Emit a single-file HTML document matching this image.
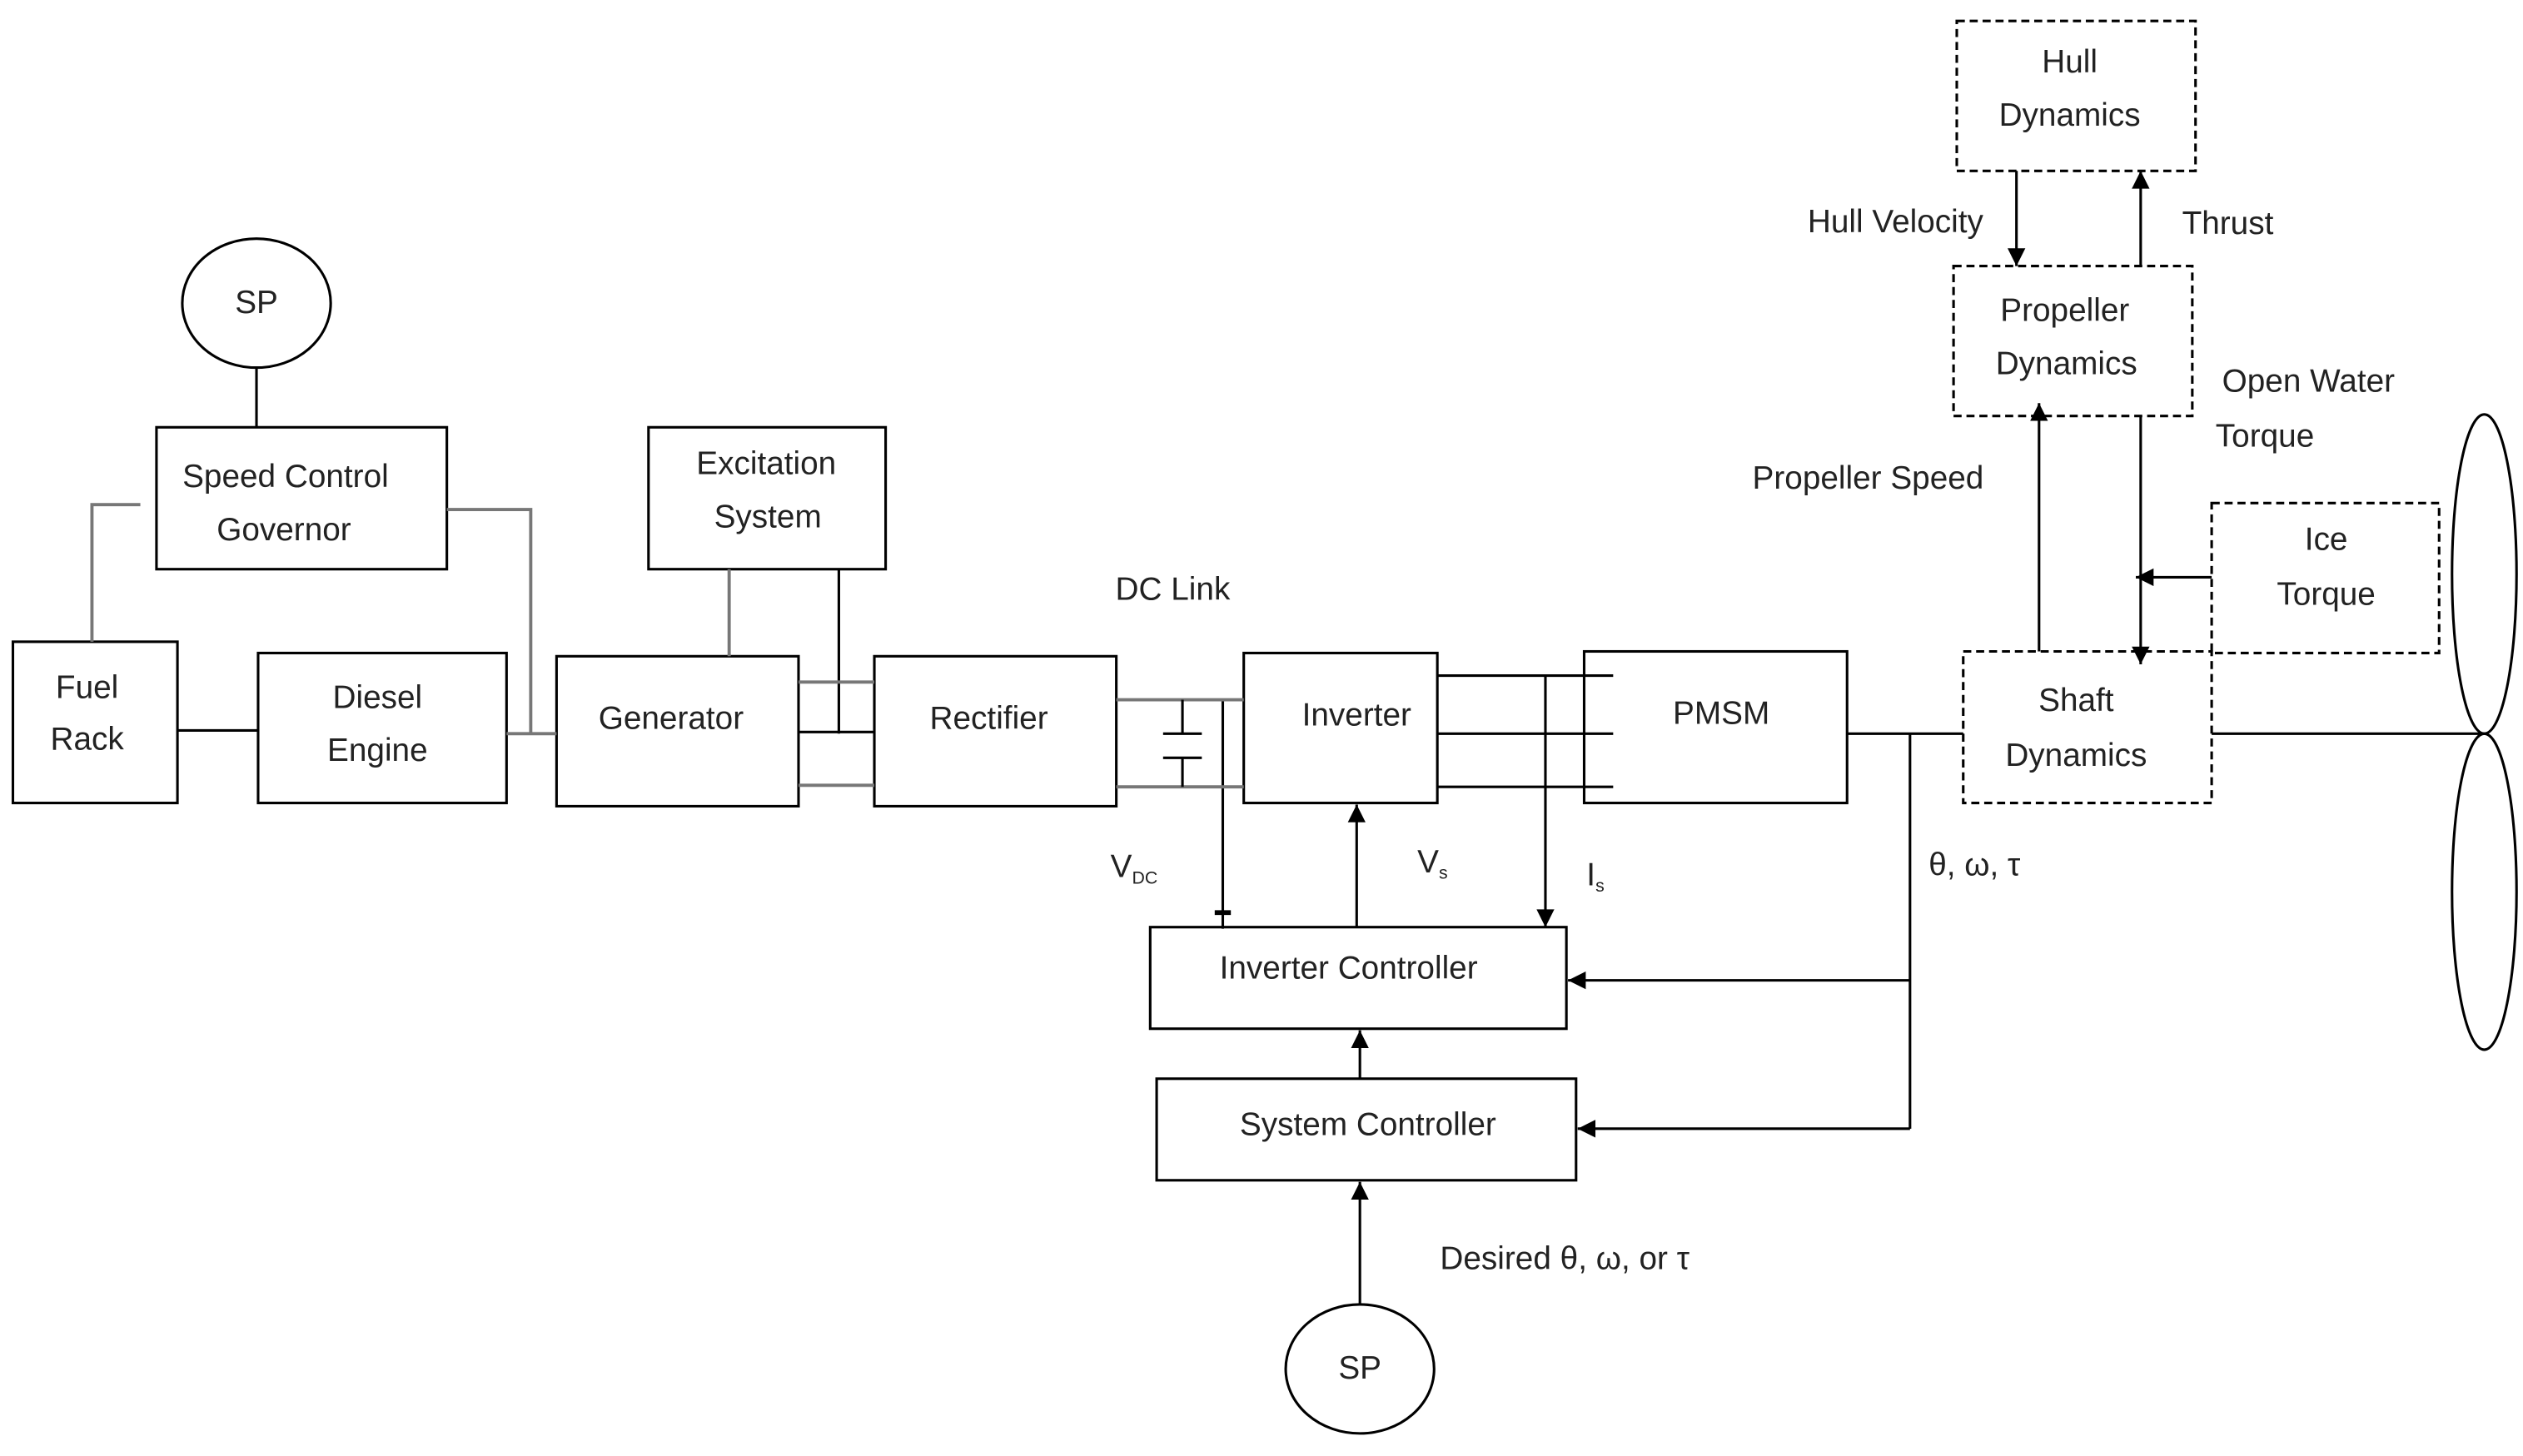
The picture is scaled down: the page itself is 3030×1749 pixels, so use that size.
<!DOCTYPE html>
<html><head><meta charset="utf-8"><style>
html,body{margin:0;padding:0;background:#fff}
svg{display:block}
text{font-family:"Liberation Sans",sans-serif;font-size:20px;fill:#222;text-anchor:middle}
</style></head><body>
<svg width="3030" height="1749" viewBox="0 0 1564 903" preserveAspectRatio="none" xmlns="http://www.w3.org/2000/svg">
<defs>
<marker id="b" viewBox="0 0 10 10" refX="10" refY="5" markerWidth="13" markerHeight="11" markerUnits="userSpaceOnUse" orient="auto"><path d="M0,0L10,5L0,10z" fill="#000"/></marker>
</defs>
<g fill="none" stroke="#000" stroke-width="1.6">
<ellipse cx="159" cy="188" rx="46" ry="40"/>
<line x1="159" y1="228" x2="159" y2="265"/>
<rect x="97" y="265" width="180" height="88"/>
<rect x="8" y="398" width="102" height="100"/>
<rect x="160" y="405" width="154" height="93"/>
<rect x="402" y="265" width="147" height="88"/>
<rect x="345" y="407" width="150" height="93"/>
<rect x="542" y="407" width="150" height="93"/>
<rect x="771" y="405" width="120" height="93"/>
<rect x="982" y="404" width="163" height="94"/>
<rect x="713" y="575" width="258" height="63"/>
<rect x="717" y="669" width="260" height="63"/>
<ellipse cx="843" cy="849" rx="46" ry="40"/>
<line x1="110" y1="453" x2="160" y2="453"/>
<line x1="520" y1="353" x2="520" y2="455"/>
<line x1="495" y1="454" x2="542" y2="454"/>
<line x1="891" y1="455" x2="1000" y2="455"/>
<line x1="891" y1="488" x2="1000" y2="488"/>
<line x1="891" y1="419" x2="1000" y2="419"/>
<line x1="1145" y1="455" x2="1217" y2="455"/>
<line x1="1371" y1="455" x2="1540" y2="455"/>
<line x1="1184" y1="455" x2="1184" y2="700"/>
<line x1="1184" y1="608" x2="972" y2="608" marker-end="url(#b)"/>
<line x1="1184" y1="700" x2="978" y2="700" marker-end="url(#b)"/>
<line x1="758" y1="434" x2="758" y2="576"/>
<line x1="753" y1="566" x2="763" y2="566" stroke-width="3"/>
<line x1="841" y1="575" x2="841" y2="499" marker-end="url(#b)"/>
<line x1="958" y1="419" x2="958" y2="575" marker-end="url(#b)"/>
<line x1="843" y1="669" x2="843" y2="639" marker-end="url(#b)"/>
<line x1="843" y1="809" x2="843" y2="733" marker-end="url(#b)"/>
<line x1="1250" y1="106" x2="1250" y2="165" marker-end="url(#b)"/>
<line x1="1327" y1="165" x2="1327" y2="106" marker-end="url(#b)"/>
<line x1="1264" y1="404" x2="1264" y2="250" marker-end="url(#b)"/>
<line x1="1327" y1="258" x2="1327" y2="412" marker-end="url(#b)"/>
<line x1="1371" y1="358" x2="1324" y2="358" marker-end="url(#b)"/>
<ellipse cx="1540" cy="356" rx="20" ry="99"/>
<ellipse cx="1540" cy="553" rx="20" ry="98"/>
</g>
<g fill="none" stroke="#777" stroke-width="2">
<polyline points="87,313 57,313 57,398"/>
<polyline points="277,316 329,316 329,455 314,455 345,455"/>
<line x1="452" y1="353" x2="452" y2="407"/>
<line x1="495" y1="423" x2="542" y2="423"/>
<line x1="495" y1="487" x2="542" y2="487"/>
<line x1="692" y1="434" x2="771" y2="434"/>
<line x1="692" y1="488" x2="771" y2="488"/>
</g>
<g stroke="#000" stroke-width="1.6">
<line x1="733" y1="434" x2="733" y2="455"/>
<line x1="733" y1="470" x2="733" y2="488"/>
<line x1="721" y1="455" x2="745" y2="455"/>
<line x1="721" y1="470" x2="745" y2="470"/>
</g>
<g fill="none" stroke="#000" stroke-width="1.6" stroke-dasharray="5,3">
<rect x="1217" y="404" width="154" height="94"/>
<rect x="1371" y="312" width="141" height="93"/>
<rect x="1211" y="165" width="148" height="93"/>
<rect x="1213" y="13" width="148" height="93"/>
</g>
<text x="159" y="194" font-size="17">SP</text>
<text x="843" y="855" font-size="17">SP</text>
<text x="177" y="302">Speed Control</text>
<text x="176" y="335">Governor</text>
<text x="54" y="433">Fuel</text>
<text x="54" y="465">Rack</text>
<text x="234" y="439">Diesel</text>
<text x="234" y="472">Engine</text>
<text x="475" y="294">Excitation</text>
<text x="476" y="327">System</text>
<text x="416" y="452">Generator</text>
<text x="613" y="452">Rectifier</text>
<text x="727" y="372">DC Link</text>
<text x="841" y="450">Inverter</text>
<text x="1067" y="449">PMSM</text>
<text x="836" y="607">Inverter Controller</text>
<text x="848" y="704">System Controller</text>
<text x="703" y="544">V<tspan font-size="11" dy="4">DC</tspan></text>
<text x="888" y="541">V<tspan font-size="11" dy="4">s</tspan></text>
<text x="989" y="549">I<tspan font-size="11" dy="4">s</tspan></text>
<text x="1224" y="543">θ, ω, τ</text>
<text x="970" y="787">Desired θ, ω, or τ</text>
<text x="1287" y="441">Shaft</text>
<text x="1287" y="475">Dynamics</text>
<text x="1442" y="341">Ice</text>
<text x="1442" y="375">Torque</text>
<text x="1280" y="199">Propeller</text>
<text x="1281" y="232">Dynamics</text>
<text x="1283" y="45">Hull</text>
<text x="1283" y="78">Dynamics</text>
<text x="1175" y="144">Hull Velocity</text>
<text x="1381" y="145">Thrust</text>
<text x="1431" y="243">Open Water</text>
<text x="1404" y="277">Torque</text>
<text x="1158" y="303">Propeller Speed</text>
</svg>
</body></html>
